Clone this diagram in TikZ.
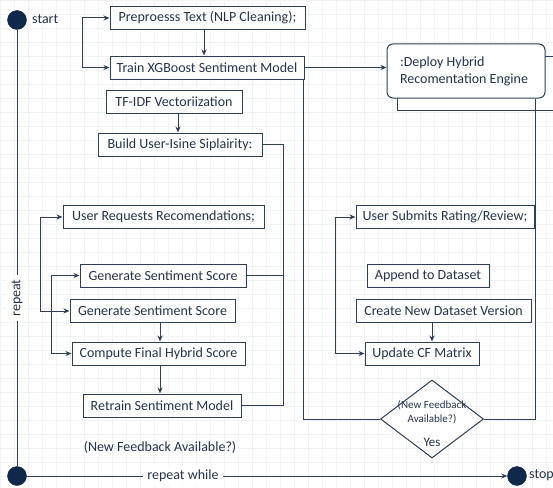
\documentclass[tikz,border=0pt]{standalone}
\usepackage{fontspec}
\setmainfont{Carlito}
\usetikzlibrary{shapes.geometric,arrows.meta,calc}

\definecolor{ink}{HTML}{2F3F57}
\definecolor{txt}{HTML}{26344A}
\definecolor{dot}{HTML}{10284A}
\definecolor{gridc}{HTML}{F1F3F5}

\tikzset{
  stepbox/.style={draw=ink, line width=1pt, fill=white, rectangle,
    minimum height=23pt, inner sep=2pt, text=txt, font=\fontsize{14}{16}\selectfont},
  link/.style={draw=ink, line width=1pt},
  arr/.style={link, -{Stealth[length=6pt,width=5pt]}},
  biarr/.style={link, {Stealth[length=6pt,width=5pt]}-{Stealth[length=6pt,width=5pt]}},
  enddot/.style={circle, fill=dot, draw=dot, minimum size=19pt, inner sep=0pt},
  lbl/.style={text=txt, font=\fontsize{14}{16}\selectfont, inner sep=1pt},
  gaplbl/.style={lbl, fill=white, inner sep=4pt},
}

\begin{document}
\begin{tikzpicture}[x=1pt, y=-1pt]
  \useasboundingbox (0,0) rectangle (553,487);
  \clip (0,0) rectangle (553,487);
  \fill[white] (0,0) rectangle (553,487);
  \draw[gridc, line width=0.6pt, step=14pt] (0,0) grid (560,490);

  % start / end markers
  \node[enddot] (start) at (17,20) {};
  \node[lbl, anchor=west] (startlbl) at (31,19) {start};
  \node[enddot] (loopend) at (17,476) {};
  \node[enddot] (stop) at (517,476) {};
  \node[lbl, anchor=west] (stoplbl) at (528,475) {stop};

  % training pipeline
  \node[stepbox, minimum width=195pt] (pre) at (207.5,18) {Preproesss Text (NLP Cleaning);};
  \node[stepbox, minimum width=194pt] (train) at (207,67.5) {Train XGBoost Sentiment Model};
  \node[stepbox, minimum width=136pt] (tfidf) at (174,101.5) {TF-IDF Vectoriization};
  \node[stepbox, minimum width=164pt] (build) at (180,144.5) {Build User-Isine Siplairity:};

  % deployment
  \node[draw=ink, line width=1pt, fill=white, rectangle, minimum width=203pt,
        minimum height=54pt] (deployback) at (498.5,83) {};
  \node[draw=ink, line width=1pt, fill=white, rounded corners=6pt, minimum width=158pt,
        minimum height=54pt, text=txt, font=\fontsize{14}{17}\selectfont,
        align=left, inner sep=0pt] (deploy) at (466,71)
        {\makebox[132pt][l]{:Deploy Hybrid}\\\makebox[132pt][l]{Recomentation Engine}};

  % recommendation branch
  \node[stepbox, minimum width=201pt] (ureq) at (163.5,217) {User Requests Recomendations;};
  \node[stepbox, minimum width=166pt] (gen1) at (163,275.5) {Generate Sentiment Score};
  \node[stepbox, minimum width=165pt] (gen2) at (152.5,311) {Generate Sentiment Score};
  \node[stepbox, minimum width=173pt] (comp) at (158.5,353.5) {Compute Final Hybrid Score};
  \node[stepbox, minimum width=158pt] (retr) at (162,405.5) {Retrain Sentiment Model};
  \node[lbl] (cond) at (160,447) {(New Feedback Available?)};

  % feedback branch
  \node[stepbox, minimum width=178pt] (usub) at (445,217) {User Submits Rating/Review;};
  \node[stepbox, minimum width=122pt] (app) at (428,275.5) {Append to Dataset};
  \node[stepbox, minimum width=175pt] (cnew) at (443.5,311) {Create New Dataset Version};
  \node[stepbox, minimum width=114pt] (upd) at (422,353.5) {Update CF Matrix};
  \node[diamond, draw=ink, line width=1pt, fill=white, minimum width=103pt,
        minimum height=78pt, inner sep=0pt] (dia) at (432,419) {};
  \node[lbl, font=\fontsize{11}{14}\selectfont, align=center] (dialbl) at (432,412)
        {(New Feedback\\Available?)};
  \node[lbl, font=\fontsize{13}{15}\selectfont] (yes) at (432,442) {Yes};

  % x positions of vertical connector runs
  \coordinate (xa) at (204,0);
  \coordinate (xb) at (178,0);
  \coordinate (xc) at (160,0);
  \coordinate (xd) at (432,0);
  \coordinate (lx1) at (82,0);
  \coordinate (lx2) at (40,0);
  \coordinate (lx3) at (51,0);
  \coordinate (lx4) at (335,0);
  \coordinate (rx1) at (283,0);
  \coordinate (fl) at (303,0);
  \coordinate (fr) at (535,0);

  % straight flow arrows
  \draw[arr] (pre.south -| xa) -- (train.north -| xa);
  \draw[arr] (tfidf.south -| xb) -- (build.north -| xb);
  \draw[arr] (gen2.south -| xc) -- (comp.north -| xc);
  \draw[arr] (comp.south -| xc) -- (retr.north -| xc);
  \draw[arr] (cnew.south -| xd) -- (upd.north -| xd);
  \draw[arr] (train.east) -- (train.east -| deploy.west);

  % bracket loops
  \draw[biarr] (pre.west) -- (pre.west -| lx1) -- (train.west -| lx1) -- (train.west);
  \draw[biarr] (ureq.west) -- (ureq.west -| lx2) -- (gen2.west -| lx2) -- (gen2.west);
  \draw[biarr] (gen1.west) -- (gen1.west -| lx3) -- (comp.west -| lx3) -- (comp.west);
  \draw[biarr] (usub.west) -- (usub.west -| lx4) -- (upd.west -| lx4) -- (upd.west);

  % collector on the right of the left column
  \draw[link] (build.east) -- (build.east -| rx1) -- (retr.east -| rx1) -- (retr.east);
  \draw[link] (gen1.east) -- (gen1.east -| rx1);

  % frame around the feedback branch
  \draw[link] (train.south -| fl) -- (dia.west -| fl) -- (dia.west);
  \draw[link] (dia.east) -- (dia.east -| fr) -- (deploy.south -| fr);

  % outer repeat loop
  \draw[link] (start) -- (loopend);
  \node[gaplbl, rotate=90] (replbl) at (17,298) {repeat};
  \draw[arr] (loopend) -- (stop);
  \node[gaplbl] (whilelbl) at (183,476) {repeat while};
\end{tikzpicture}
\end{document}
